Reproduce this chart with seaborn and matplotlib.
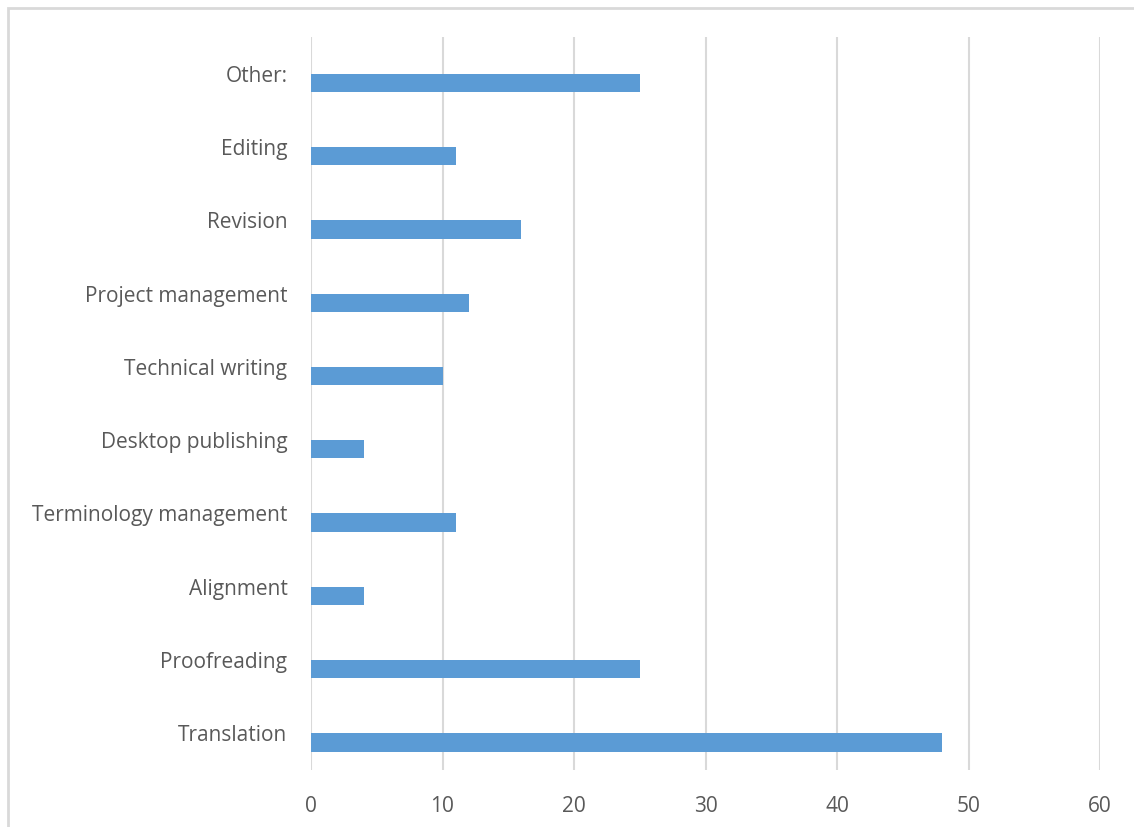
import matplotlib
matplotlib.use("Agg")
import matplotlib.pyplot as plt
import seaborn as sns
import pandas as pd
from matplotlib.patches import Rectangle

categories = [
    "Other:",
    "Editing",
    "Revision",
    "Project management",
    "Technical writing",
    "Desktop publishing",
    "Terminology management",
    "Alignment",
    "Proofreading",
    "Translation",
]
counts = [25, 11, 16, 12, 10, 4, 11, 4, 25, 48]
x_ticks = [0, 10, 20, 30, 40, 50, 60]

# Two series per category: an empty placeholder series sits above each bar,
# the responses series below it, as in a clustered bar chart.
series_names = ["Series 2", "Series 1"]
placeholder = [0] * len(categories)

df = pd.DataFrame({
    "category": categories * 2,
    "series": [series_names[0]] * len(categories) + [series_names[1]] * len(categories),
    "value": placeholder + counts,
})

sns.set_theme(style="white")
plt.rcParams["font.family"] = ["Open Sans", "DejaVu Sans"]

text_color = "#595959"
grid_color = "#D9D9D9"
bar_color = "#5B9BD5"

fig = plt.figure(figsize=(11.34, 8.27), dpi=100)
ax = fig.add_axes([311 / 1134, 1 - 770 / 827, (1100 - 311) / 1134, (770 - 37) / 827])

sns.barplot(
    data=df, x="value", y="category", hue="series",
    hue_order=series_names, order=categories,
    palette={series_names[0]: bar_color, series_names[1]: bar_color},
    width=0.5, dodge=True, errorbar=None, legend=False,
    saturation=1, linewidth=0, ax=ax,
)

ax.set_xlim(0, 60)
ax.set_ylim(len(categories) - 0.5, -0.5)
ax.set_xticks(x_ticks)
ax.set_xticklabels([str(t) for t in x_ticks])
ax.set_xlabel("")
ax.set_ylabel("")

ax.grid(axis="x", color=grid_color, linewidth=1.5)
ax.grid(axis="y", visible=False)
ax.set_axisbelow(True)
for s in ax.spines.values():
    s.set_visible(False)

ax.tick_params(axis="x", length=0, pad=19, labelsize=15, labelcolor=text_color)
ax.tick_params(axis="y", length=0, pad=17, labelsize=15, labelcolor=text_color)

# chart area frame
fig.patches.append(Rectangle(
    (8 / 1134, -0.1), 1.2, (1 - 7.5 / 827) + 0.1,
    transform=fig.transFigure, fill=False, edgecolor=grid_color, linewidth=2,
    zorder=0,
))

fig.savefig("out.png", dpi=100, facecolor="white")
